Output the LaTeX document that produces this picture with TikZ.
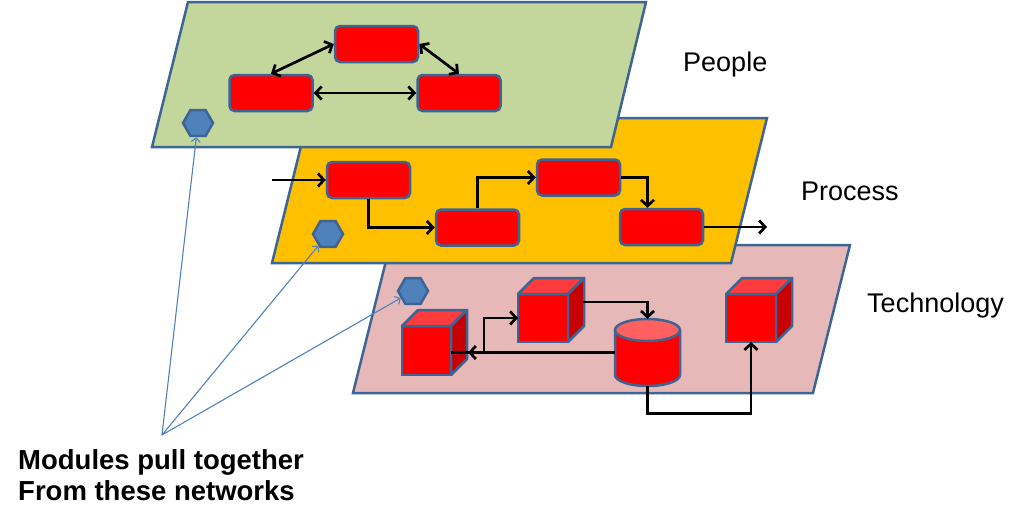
\documentclass[tikz,border=0pt]{standalone}
\usepackage{fontspec}
\setmainfont{Liberation Sans}
\usetikzlibrary{arrows.meta,shapes.geometric,calc}

\definecolor{edge}{HTML}{3C6494}
\definecolor{peoplebg}{HTML}{C3D69B}
\definecolor{processbg}{HTML}{FFC000}
\definecolor{techbg}{HTML}{E6B9B8}
\definecolor{boxred}{HTML}{FF0000}
\definecolor{topred}{HTML}{FF3B3B}
\definecolor{sidered}{HTML}{C80000}
\definecolor{cylred}{HTML}{FF6161}
\definecolor{hexblue}{HTML}{4F81BD}

% top and side faces of a cube, from its front node
\newcommand{\cubefaces}[1]{%
  \filldraw[fill=topred, draw=edge, line width=2.5pt, line join=round]
    (#1.north west) -- ++(16,-16) -- ($(#1.north east)+(16,-16)$) -- (#1.north east) -- cycle;
  \filldraw[fill=sidered, draw=edge, line width=2.5pt, line join=round]
    (#1.north east) -- ++(16,-16) -- ($(#1.south east)+(16,-16)$) -- (#1.south east) -- cycle;}

\begin{document}
\begin{tikzpicture}[x=1pt, y=-1pt,
    layer/.style={draw=edge, line width=2.5pt},
    task/.style={draw=edge, fill=boxred, line width=2.5pt, rounded corners=5pt,
      minimum width=83pt, minimum height=36pt, inner sep=0pt},
    cubeface/.style={draw=edge, fill=boxred, line width=2.5pt, inner sep=0pt, outer sep=0pt},
    hexa/.style={regular polygon, regular polygon sides=6, minimum size=30pt,
      inner sep=0pt, draw=edge, fill=hexblue, line width=2.5pt},
    link/.style={black, line width=2.7pt, -{Straight Barb[length=6pt,width=13pt]}},
    dlink/.style={link, {Straight Barb[length=6pt,width=13pt]}-{Straight Barb[length=6pt,width=13pt]}},
    pullarrow/.style={hexblue, line width=1.1pt, -{Straight Barb[length=4pt,width=9pt]}},
    layername/.style={anchor=base west, inner sep=0pt, font=\fontsize{27}{32}\selectfont},
    pullnote/.style={anchor=base west, inner sep=0pt, font=\fontsize{27.5}{32}\selectfont\bfseries}]
  \useasboundingbox (0,0) rectangle (1024,525);

  % technology
  \filldraw[layer, fill=techbg] (390,245) -- (850,245) -- (813,393) -- (353,393) -- cycle;
  \node[cubeface, minimum width=49pt, minimum height=49pt] (cb1) at (426.5,350.5) {};
  \cubefaces{cb1}
  \node[cubeface, minimum width=50pt, minimum height=48pt] (cb2) at (543,318) {};
  \cubefaces{cb2}
  \node[cubeface, minimum width=50pt, minimum height=48pt] (cb3) at (751,318) {};
  \cubefaces{cb3}
  \filldraw[fill=boxred, draw=edge, line width=2.5pt]
    (615,330) -- (615,375) arc[start angle=180, end angle=0, x radius=32.5, y radius=11] -- (680,330);
  \filldraw[fill=cylred, draw=edge, line width=2.5pt] (647.5,330) ellipse[x radius=32.5, y radius=11];
  \node[inner sep=0pt, minimum width=65pt, minimum height=67pt] (db) at (647.5,352.5) {};
  \node[hexa] (hx3) at (413,291) {};
  \coordinate (cb1s) at ($(cb1.east)+(17,0)$);
  \draw[link] ($(cb2.east)+(15,-16)$) -| (db.north);
  \draw[link] (db.west) -- (cb1s |- db.west);
  \draw[link] (cb1.east |- db.west) -- ++(33,0) |- (cb2.west);
  \draw[link] (db.south) -- ++(0,27) -| (cb3.south);

  % process
  \filldraw[layer, fill=processbg] (308,118) -- (767,118) -- (731,263) -- (272,263) -- cycle;
  \node[task] (pr1) at (368.5,180) {};
  \node[task] (pr2) at (477.5,227.5) {};
  \node[task] (pr3) at (578.5,177.5) {};
  \node[task] (pr4) at (661.5,227) {};
  \node[hexa] (hx2) at (328,234) {};
  \coordinate (procin) at (272,180);
  \coordinate (procout) at (767,227);
  \draw[link] (procin) -- (pr1.west);
  \draw[link] (pr1.south) |- (pr2.west);
  \draw[link] (pr2.north) |- (pr3.west);
  \draw[link] (pr3.east) -| ([xshift=-14pt]pr4.north);
  \draw[link] (pr4.east) -- (procout);

  % people
  \filldraw[layer, fill=peoplebg] (188,2) -- (646,2) -- (611,147) -- (152,147) -- cycle;
  \node[task] (pp1) at (376.5,44) {};
  \node[task] (pp2) at (271,93) {};
  \node[task] (pp3) at (459,93) {};
  \node[hexa] (hx1) at (198,123) {};
  \draw[dlink] (pp2.north) -- (pp1.west);
  \draw[dlink] (pp1.east) -- (pp3.north);
  \draw[dlink] (pp2.east) -- (pp3.west);

  % labels
  \node[layername] (ppl) at (683,71) {People};
  \node[layername] (prc) at (801,200) {Process};
  \node[layername] (tec) at (867,312) {Technology};

  \coordinate (pull) at (162,435);
  \node[pullnote] (nt1) at (18,469) {Modules pull together};
  \node[pullnote] (nt2) at (18,500) {From these networks};
  \draw[pullarrow] (pull) -- (hx1);
  \draw[pullarrow] (pull) -- (hx2);
  \draw[pullarrow] (pull) -- (hx3);
\end{tikzpicture}
\end{document}
